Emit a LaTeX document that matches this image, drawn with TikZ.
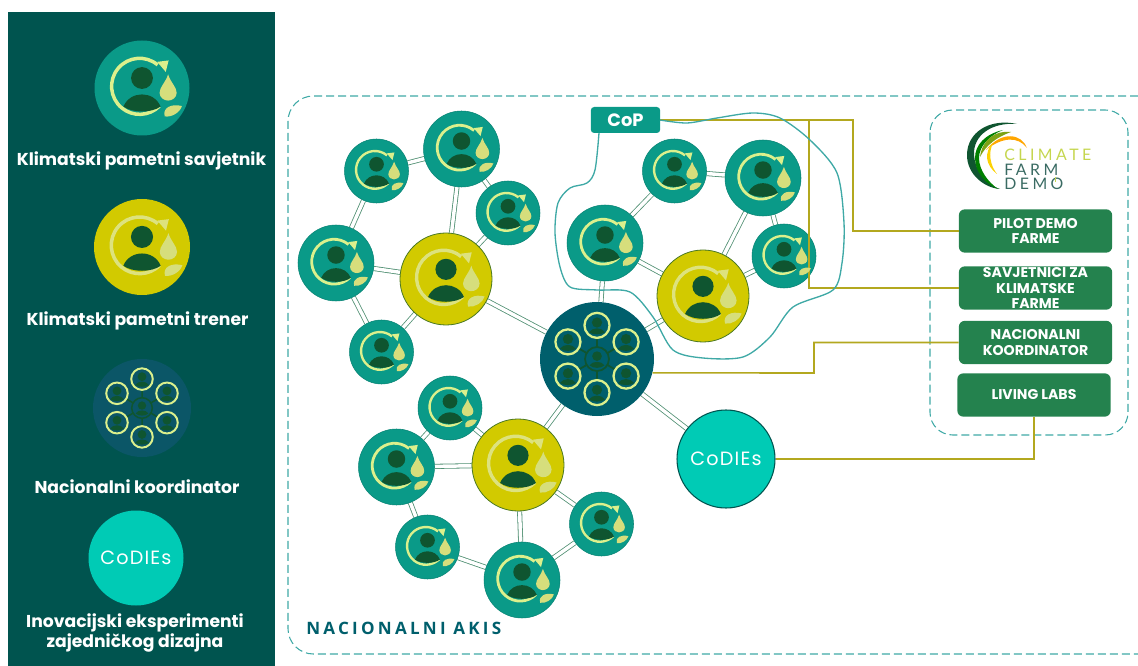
\documentclass[tikz,border=0pt]{standalone}
\usepackage{fontspec}
\setmainfont{Poppins}
\newfontfamily\akisfont[LetterSpace=19]{Open Sans}
\newfontfamily\logofont[LetterSpace=22]{Lato}
\newfontfamily\codiesfont[LetterSpace=6]{Poppins}
\usetikzlibrary{backgrounds}
\definecolor{panelteal}{HTML}{00544F}
\definecolor{advteal}{HTML}{0A9A88}
\definecolor{trainyellow}{HTML}{D2CA00}
\definecolor{hubblue}{HTML}{005F6C}
\definecolor{hubdim}{HTML}{0B5667}
\definecolor{codiesteal}{HTML}{00CBB5}
\definecolor{persongreen}{HTML}{0F5530}
\definecolor{ringlime}{HTML}{DCF08C}
\definecolor{ringpale}{HTML}{DDE27E}
\definecolor{dropgreen}{HTML}{D6DE7C}
\definecolor{boxgreen}{HTML}{24824E}
\definecolor{feederolive}{HTML}{B3A81F}
\definecolor{dashteal}{HTML}{3FA9A6}
\definecolor{linkgreen}{HTML}{4F8F72}
\definecolor{logolime}{HTML}{C5D64E}
\definecolor{logoslate}{HTML}{3A6B63}
\tikzset{
        advisor/.style={circle,fill=advteal,draw=advteal!85!black,line width=.4pt,inner sep=0pt,minimum size=#1*1.5pt},
        trainer/.style={circle,fill=trainyellow,draw=persongreen!70!trainyellow,line width=.6pt,inner sep=0pt,minimum size=#1*1.5pt},
        hub/.style={circle,fill=hubblue,inner sep=0pt,minimum size=#1*1.5pt},
        codies/.style={circle,fill=codiesteal,inner sep=0pt,minimum size=#1*1.5pt,text=white,font=\codiesfont\fontsize{14.4}{16}\selectfont},
        legendlabel/.style={text=white,align=center,font=\bfseries\fontsize{12.9}{14.8}\selectfont},
        farmbox/.style={fill=boxgreen,rounded corners=4.5pt,inner sep=0pt,minimum width=115pt,minimum height=32.5pt,text=white,align=center,font=\bfseries\fontsize{10.6}{11.8}\selectfont},
        link/.style={draw=linkgreen,line width=.6pt,double=white,double distance=2.6pt},
        feeder/.style={draw=feederolive,line width=1.2pt},
        dashbox/.style={draw=dashteal,line width=.8pt,dash pattern=on 6pt off 3pt},
        logotext/.style={anchor=west,inner sep=0pt,font=\logofont\fontsize{11.9}{13}\selectfont},
        pics/farmicon/.style 2 args={code={
                \begin{scope}[scale=#1]
                \draw[#2,line width=#1*.055pt] (-.05,-.035) ++(-50:.59) arc[start angle=-50,end angle=-315,radius=.59];
                \fill[#2] (.32,-.55) -- (.56,-.58) -- (.5,-.34) -- cycle;
                \fill[persongreen] (0,-.21) circle[radius=.23];
                \fill[persongreen] (-.39,.39) .. controls (-.25,.05) and (.25,.05) .. (.39,.39) .. controls (.2,.53) and (-.2,.53) .. cycle;
                \fill[dropgreen] (.55,-.29) .. controls (.5,-.12) and (.37,-.02) .. (.37,.1) .. controls (.37,.2) and (.46,.265) .. (.55,.265) .. controls (.64,.265) and (.73,.2) .. (.73,.1) .. controls (.73,-.02) and (.6,-.12) .. cycle;
                \fill[dropgreen] (.48,.6) .. controls (.42,.42) and (.62,.32) .. (.84,.38) .. controls (.8,.52) and (.62,.62) .. cycle;
                \end{scope}
        }},
        pics/ringperson/.style={code={
                \begin{scope}[scale=#1]
                \draw[ringlime,line width=#1*.03pt] (0,0) circle[radius=.22];
                \fill[persongreen] (0,-.05) circle[radius=.09];
                \fill[persongreen] (-.14,.12) .. controls (-.08,.03) and (.08,.03) .. (.14,.12) .. controls (.08,.17) and (-.08,.17) .. cycle;
                \end{scope}
        }},
        pics/hubicon/.style={code={
                \begin{scope}[scale=#1]
                \draw[persongreen,line width=#1*.023pt] (0,0) circle[radius=.21];
                \draw[persongreen,line width=#1*.023pt] (30:.21) -- (30:.36) (90:.21) -- (90:.36) (150:.21) -- (150:.36) (210:.21) -- (210:.36) (270:.21) -- (270:.36) (330:.21) -- (330:.36);
                \fill[persongreen] (0,-.05) circle[radius=.085];
                \fill[persongreen] (-.13,.11) .. controls (-.08,.03) and (.08,.03) .. (.13,.11) .. controls (.08,.17) and (-.08,.17) .. cycle;
                \pic at (0,-.59) {ringperson=#1};
                \pic at (.51,-.3) {ringperson=#1};
                \pic at (.51,.3) {ringperson=#1};
                \pic at (0,.59) {ringperson=#1};
                \pic at (-.51,.3) {ringperson=#1};
                \pic at (-.51,-.3) {ringperson=#1};
                \end{scope}
        }},
}
\begin{document}
\begin{tikzpicture}[x=.75pt,y=-.75pt]
        \useasboundingbox (0,0) rectangle (1138,666);
        \fill[panelteal] (8,12) rectangle (275,666);

        % legend
        \node[advisor=47.5,draw=none] (legadvisor) at (142,88) {};
        \node[trainer=48,draw=none] (legtrainer) at (142,247) {};
        \node[hub=49,fill=hubdim] (leghub) at (142,408) {};
        \node[codies=47.5] (legcodies) at (136,558) {CoDIEs};
        \pic at (legadvisor) {farmicon={47.5}{ringlime}};
        \pic at (legtrainer) {farmicon={48}{ringpale}};
        \pic at (leghub) {hubicon=49};
        \node[legendlabel] (labadvisor) at (141.5,161) {Klimatski pametni savjetnik};
        \node[legendlabel] (labtrainer) at (137.5,321) {Klimatski pametni trener};
        \node[legendlabel] (labhub) at (137,487) {Nacionalni koordinator};
        \node[legendlabel] (labcodies) at (135,633) {Inovacijski eksperimenti\\zajedničkog dizajna};

        % network nodes
        \node[advisor=32] (adv1) at (376.5,171) {};
        \node[advisor=38] (adv2) at (461.5,149) {};
        \node[advisor=32] (adv3) at (508,213) {};
        \node[advisor=38] (adv4) at (336,263) {};
        \node[advisor=32] (adv5) at (381.5,352) {};
        \node[trainer=46] (train1) at (446,279) {};
        \node[advisor=38] (adv6) at (605,243) {};
        \node[advisor=32] (adv7) at (674.5,171) {};
        \node[advisor=38] (adv8) at (763,178) {};
        \node[advisor=32] (adv9) at (784,256) {};
        \node[trainer=46] (train2) at (703,296) {};
        \node[hub=57] (hubmain) at (597,359) {};
        \node[advisor=32] (adv10) at (450,408) {};
        \node[advisor=38] (adv11) at (396.5,467) {};
        \node[trainer=46] (train3) at (518,465) {};
        \node[advisor=32] (adv12) at (601.5,524) {};
        \node[advisor=32] (adv13) at (427.5,547) {};
        \node[advisor=38] (adv14) at (522,580) {};
        \node[codies=49,draw=panelteal,line width=.8pt] (codiesmain) at (726,459) {CoDIEs};

        % right hand side
        \node[farmbox] (pilot) at (1035.5,231) {PILOT DEMO\\FARME};
        \node[farmbox] (savjet) at (1035.5,288) {SAVJETNICI ZA\\KLIMATSKE\\FARME};
        \node[farmbox] (nacional) at (1035.5,342.5) {NACIONALNI\\KOORDINATOR};
        \node[farmbox] (living) at (1034,395) {LIVING LABS};
        \node[fill=advteal,rounded corners=2.5pt,minimum width=52pt,minimum height=19.5pt,inner sep=0pt,text=white,font=\bfseries\fontsize{13.4}{15}\selectfont] (cop) at (625.5,120) {CoP};
        \node[anchor=west,inner sep=0pt,text=hubblue,font=\akisfont\bfseries\fontsize{12.8}{14}\selectfont] (akis) at (306,628) {NACIONALNI AKIS};

        \begin{scope}[on background layer]
        \draw[dashbox,rounded corners=19pt] (1138,96) -- (288,96) -- (288,654) -- (1138,654);
        \draw[dashbox,rounded corners=17pt] (930,110) rectangle (1128,435);
        \draw[link] (adv1) -- (adv2) (adv1) -- (adv4) (adv2) -- (adv3) (adv2) -- (train1);
        \draw[link] (adv3) -- (train1) (adv4) -- (train1) (adv4) -- (adv5) (adv5) -- (train1);
        \draw[link] (train1) -- (hubmain) (adv6) -- (adv7) (adv7) -- (adv8) (adv8) -- (train2);
        \draw[link] (adv8) -- (adv9) (adv9) -- (train2) (adv6) -- (train2) (adv6) -- (hubmain);
        \draw[link] (train2) -- (hubmain) (hubmain) -- (train3) (hubmain) -- (codiesmain);
        \draw[link] (train3) -- (adv10) (adv10) -- (adv11) (train3) -- (adv11) (adv11) -- (adv13);
        \draw[link] (adv13) -- (adv14) (train3) -- (adv14) (adv14) -- (adv12) (adv12) -- (train3);
        \end{scope}

        % lines to the boxes
        \coordinate (copfar) at (853,120);
        \coordinate (copnear) at (809,120);
        \coordinate (hubbend) at (814,373);
        \draw[feeder] (cop.east) -- (copfar) |- (pilot.west);
        \draw[feeder] (copnear) |- (savjet.west);
        \draw[feeder] (hubmain.-14) -- (hubbend) |- (nacional.west);
        \draw[feeder] (living.south) |- (codiesmain.east);
        \draw[draw=dashteal,line width=1pt] plot[smooth] coordinates {(599,133) (595,170) (587,183) (570,188) (558,203) (555,233) (560,267) (570,287) (597,290) (630,292) (653,317) (673,350) (703,358) (743,357) (770,337) (793,307) (833,290) (842,263) (844,223) (837,173) (810,140) (780,118) (753,113) (717,118) (687,123) (660,120)};

        % icons
        \pic at (adv1) {farmicon={32}{ringlime}};
        \pic at (adv2) {farmicon={38}{ringlime}};
        \pic at (adv3) {farmicon={32}{ringlime}};
        \pic at (adv4) {farmicon={38}{ringlime}};
        \pic at (adv5) {farmicon={32}{ringlime}};
        \pic at (adv6) {farmicon={38}{ringlime}};
        \pic at (adv7) {farmicon={32}{ringlime}};
        \pic at (adv8) {farmicon={38}{ringlime}};
        \pic at (adv9) {farmicon={32}{ringlime}};
        \pic at (adv10) {farmicon={32}{ringlime}};
        \pic at (adv11) {farmicon={38}{ringlime}};
        \pic at (adv12) {farmicon={32}{ringlime}};
        \pic at (adv13) {farmicon={32}{ringlime}};
        \pic at (adv14) {farmicon={38}{ringlime}};
        \pic at (train1) {farmicon={46}{ringpale}};
        \pic at (train2) {farmicon={46}{ringpale}};
        \pic at (train3) {farmicon={46}{ringpale}};
        \pic at (hubmain) {hubicon=57};

        % logo
        \fill[persongreen] (1017,124) .. controls (990,118) and (967,132) .. (967,155) .. controls (967,175) and (985,188) .. (1000,189) .. controls (985,184) and (975,170) .. (974,155) .. controls (973,135) and (992,122) .. cycle;
        \fill[green!50!black] (1003,130) .. controls (985,134) and (975,145) .. (975,158) .. controls (975,172) and (985,184) .. (998,189) .. controls (988,182) and (979,170) .. (979,158) .. controls (979,146) and (990,135) .. cycle;
        \fill[olive!60!green!90!yellow] (1011,132) .. controls (995,130) and (982,140) .. (980,157) .. controls (986,145) and (997,137) .. cycle;
        \fill[orange!70!yellow] (1027,148) .. controls (1022,134) and (1002,130) .. (986,150) .. controls (1002,137) and (1018,136) .. cycle;
        \fill[yellow!70!orange] (993,143) .. controls (984,152) and (985,165) .. (997,174) .. controls (990,165) and (988,153) .. cycle;
        \node[logotext,text=logolime] (climate) at (1004,155) {CLIMATE};
        \node[logotext,text=logoslate] (farm) at (1004,170) {FARM};
        \node[logotext,text=logoslate] (demo) at (1004,184) {DEMO};
        \draw[logolime,line width=.7pt] (1055,177) -- (1055,182);
\end{tikzpicture}
\end{document}
